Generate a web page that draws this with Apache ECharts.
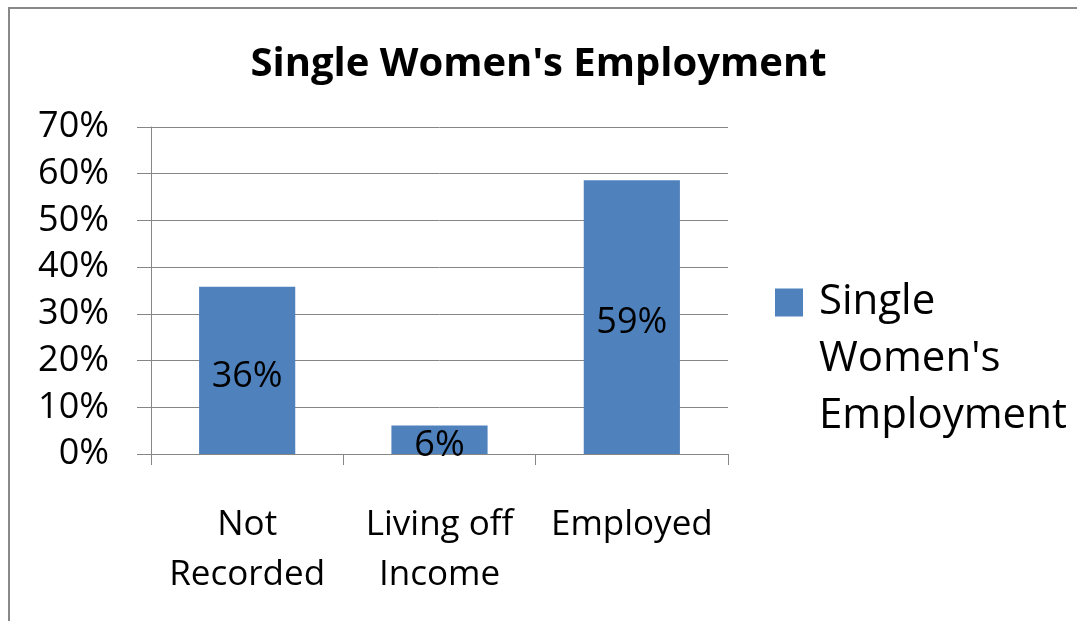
<!DOCTYPE html>
<html>
<head>
<meta charset="utf-8">
<script src="https://cdn.jsdelivr.net/npm/echarts@6/dist/echarts.min.js"></script>
<style>
  html, body { margin: 0; padding: 0; background: #fff; }
  #chart { width: 1077px; height: 621px; }
</style>
</head>
<body>
<div id="chart"></div>
<script>
var categories = ['Not\nRecorded', 'Living off\nIncome', 'Employed']
var values = [35.8, 6.1, 58.6]
var yTicks = [0, 10, 20, 30, 40, 50, 60, 70]
var seriesName = "Single Women's Employment"

var chartDom = document.getElementById('chart')
var chart = echarts.init(chartDom)
var font = '"Open Sans", sans-serif'
var gray = '#868686'

// legend text wraps one word per line; two blank lines on top keep "Single" level with the swatch
function legendText(name) {
  var words = name.split(' ').map(function (w) { return ' ' + w })
  return '\n\n' + words.join('\n')
}

var option = {
  backgroundColor: '#fff',
  animation: false,
  title: {
    text: seriesName,
    left: 'center',
    top: 40,
    textStyle: { fontFamily: font, fontSize: 40, fontWeight: 'bold', color: '#000' }
  },
  legend: {
    orient: 'vertical',
    left: 775,
    top: 160,
    padding: 0,
    itemWidth: 28,
    itemHeight: 28,
    icon: 'rect',
    data: [seriesName],
    formatter: legendText,
    textStyle: {
      fontFamily: font, fontSize: 42, color: '#000', lineHeight: 57
    }
  },
  grid: { left: 151, right: 349, top: 127, bottom: 167 },
  xAxis: {
    type: 'category',
    data: categories,
    axisLine: { lineStyle: { color: gray, width: 1 } },
    axisTick: { show: true, length: 11, lineStyle: { color: gray } },
    axisLabel: {
      margin: 46, fontFamily: font, fontSize: 35, color: '#000',
      lineHeight: 50, interval: 0
    }
  },
  yAxis: {
    type: 'value',
    min: yTicks[0],
    max: yTicks[yTicks.length - 1],
    interval: 10,
    axisLine: { show: true, lineStyle: { color: gray, width: 1 } },
    axisTick: { show: true, length: 14, lineStyle: { color: gray } },
    splitLine: { lineStyle: { color: gray, width: 1 } },
    axisLabel: {
      margin: 42, fontFamily: font, fontSize: 36, color: '#000',
      formatter: function (v) { return v + '%' }
    }
  },
  series: [{
    name: seriesName,
    type: 'bar',
    data: values,
    barCategoryGap: '50%',
    itemStyle: { color: '#4F81BD' },
    label: {
      show: true,
      position: 'inside',
      offset: [0, 6],
      fontFamily: font, fontSize: 36, color: '#000',
      formatter: function (p) { return Math.round(p.value) + '%' }
    }
  }],
  graphic: [{
    type: 'rect',
    shape: { x: 9, y: 8, width: 1200, height: 800 },
    style: { fill: 'none', stroke: '#888', lineWidth: 2 },
    silent: true
  }]
}

chart.setOption(option)
</script>
</body>
</html>
